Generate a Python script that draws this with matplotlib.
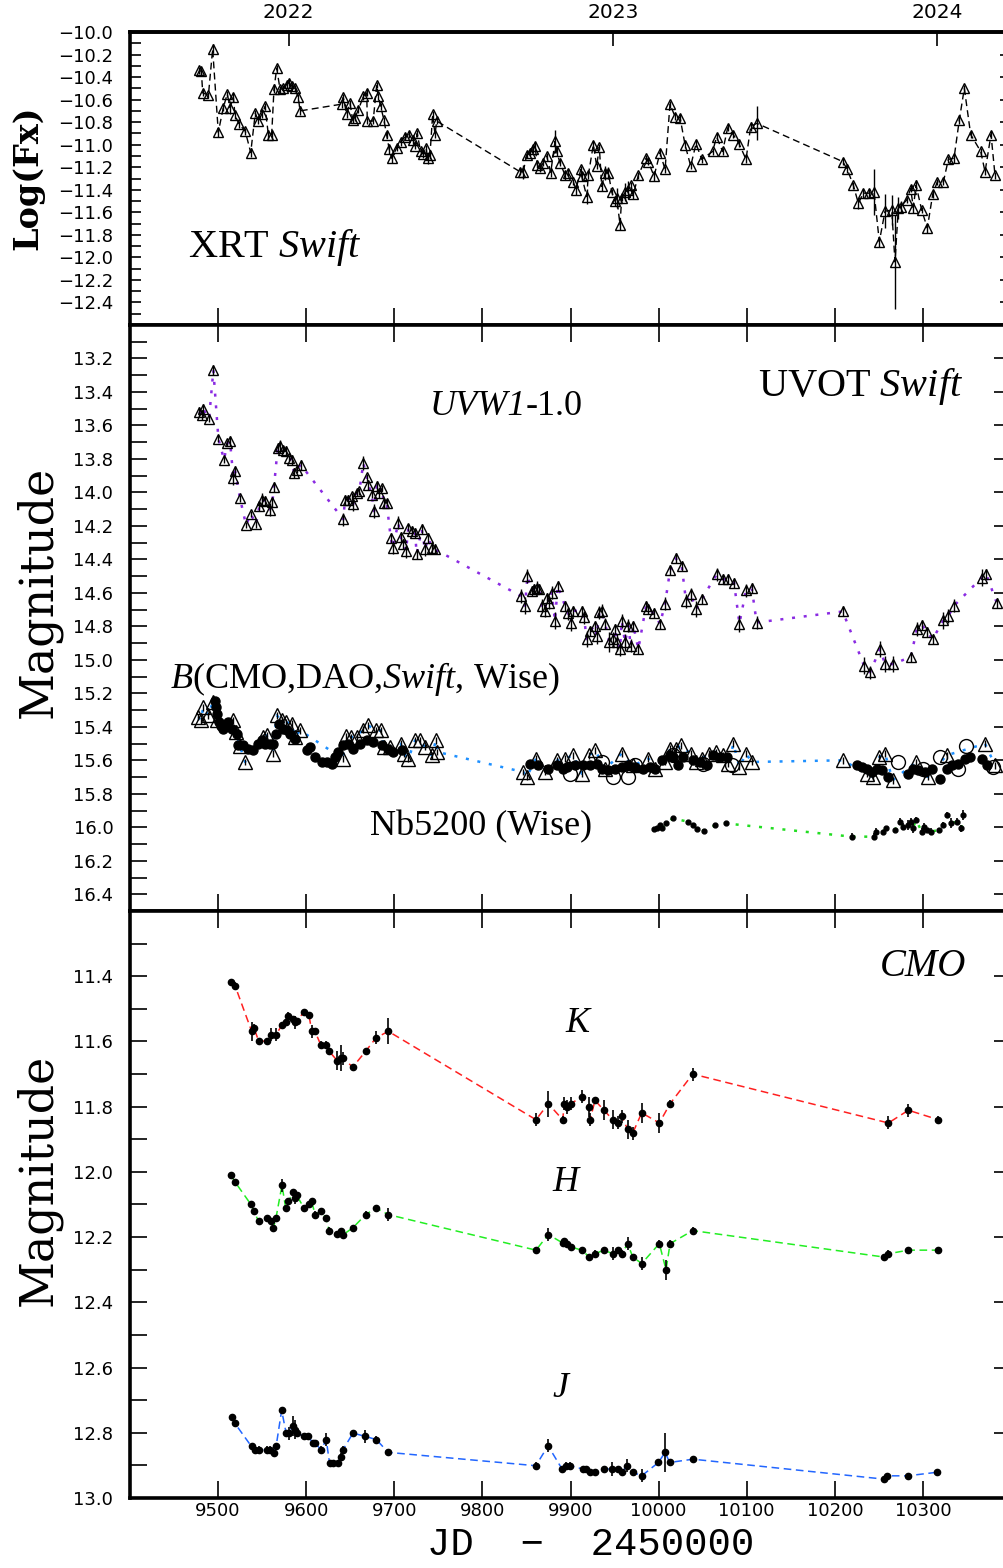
import matplotlib
matplotlib.use('Agg')
import matplotlib.pyplot as plt
from matplotlib.ticker import FixedLocator, MultipleLocator, FuncFormatter
import numpy as np

plt.rcParams['font.family'] = ['DejaVu Sans']
plt.rcParams['mathtext.fontset'] = 'custom'
plt.rcParams['mathtext.rm'] = 'Liberation Serif'
plt.rcParams['mathtext.it'] = 'Liberation Serif:italic'

# JD-2450000, value, error
xrt = np.array([
    [9478.7, -10.34, 0.03], [9481.0, -10.35, 0.03], [9482.5, -10.54, 0.03], [9489.0, -10.56, 0.03],
    [9493.8, -10.15, 0.04], [9500.2, -10.89, 0.04], [9505.9, -10.67, 0.03], [9510.4, -10.55, 0.03],
    [9513.5, -10.67, 0.06], [9517.3, -10.58, 0.04], [9519.2, -10.74, 0.03], [9524.0, -10.82, 0.03],
    [9530.8, -10.88, 0.03], [9537.0, -11.07, 0.04], [9542.2, -10.72, 0.03], [9545.7, -10.79, 0.03],
    [9549.5, -10.73, 0.03], [9553.2, -10.66, 0.03], [9557.0, -10.91, 0.04], [9560.8, -10.91, 0.04],
    [9563.4, -10.51, 0.03], [9566.5, -10.32, 0.03], [9570.3, -10.51, 0.03], [9574.0, -10.50, 0.03],
    [9577.9, -10.47, 0.03], [9580.8, -10.45, 0.03], [9583.5, -10.48, 0.03], [9587.3, -10.50, 0.03],
    [9591.0, -10.58, 0.03], [9593.0, -10.70, 0.04], [9640.5, -10.64, 0.03], [9642.0, -10.58, 0.03],
    [9645.9, -10.73, 0.03], [9649.7, -10.63, 0.03], [9652.7, -10.78, 0.03], [9655.4, -10.76, 0.03],
    [9659.2, -10.69, 0.03], [9664.9, -10.57, 0.03], [9668.7, -10.54, 0.03], [9669.3, -10.79, 0.03],
    [9676.0, -10.79, 0.03], [9680.0, -10.47, 0.03], [9681.7, -10.57, 0.03], [9684.5, -10.66, 0.03],
    [9688.2, -10.78, 0.03], [9691.2, -10.91, 0.03], [9694.2, -11.04, 0.04], [9697.0, -11.12, 0.04],
    [9702.6, -11.03, 0.03], [9707.1, -10.98, 0.03], [9712.0, -10.93, 0.03], [9717.0, -10.91, 0.03],
    [9720.8, -10.96, 0.03], [9723.5, -11.01, 0.03], [9726.0, -10.90, 0.03], [9729.8, -11.06, 0.03],
    [9732.9, -11.08, 0.04], [9736.0, -11.03, 0.03], [9737.9, -11.12, 0.05], [9740.5, -11.09, 0.04],
    [9743.5, -10.73, 0.03], [9746.2, -10.91, 0.03], [9748.1, -10.79, 0.03], [9842.7, -11.24, 0.03],
    [9846.4, -11.24, 0.06], [9850.2, -11.09, 0.03], [9854.0, -11.07, 0.03], [9857.8, -11.04, 0.03],
    [9859.7, -11.01, 0.03], [9862.3, -11.18, 0.03], [9865.4, -11.21, 0.03], [9869.1, -11.16, 0.03],
    [9873.0, -11.10, 0.03], [9877.5, -11.25, 0.04], [9882.4, -10.97, 0.10], [9884.2, -11.06, 0.04],
    [9888.0, -11.16, 0.03], [9893.8, -11.27, 0.04], [9897.5, -11.25, 0.03], [9903.2, -11.33, 0.03],
    [9906.2, -11.40, 0.05], [9911.6, -11.22, 0.03], [9912.7, -11.28, 0.04], [9918.4, -11.46, 0.07],
    [9920.2, -11.27, 0.03], [9925.9, -11.00, 0.03], [9929.7, -11.19, 0.03], [9932.7, -11.02, 0.03],
    [9935.4, -11.37, 0.04], [9939.2, -11.25, 0.06], [9942.9, -11.25, 0.05], [9946.8, -11.42, 0.03],
    [9950.5, -11.50, 0.04], [9952.4, -11.47, 0.09], [9956.2, -11.71, 0.05], [9958.1, -11.47, 0.03],
    [9961.9, -11.42, 0.08], [9965.6, -11.40, 0.08], [9968.3, -11.36, 0.03], [9971.3, -11.44, 0.04],
    [9977.0, -11.27, 0.03], [9985.7, -11.12, 0.03], [9988.3, -11.15, 0.03], [9994.8, -11.28, 0.04],
    [10001.6, -11.07, 0.03], [10007.3, -11.22, 0.03], [10012.9, -10.64, 0.03], [10018.6, -10.75, 0.03],
    [10024.3, -10.76, 0.03], [10030.0, -11.00, 0.03], [10036.4, -11.19, 0.03], [10042.5, -10.99, 0.03],
    [10048.9, -11.13, 0.03], [10061.3, -11.06, 0.03], [10065.8, -10.93, 0.03], [10072.6, -11.06, 0.03],
    [10078.4, -10.85, 0.03], [10084.7, -10.91, 0.03], [10091.2, -10.99, 0.03], [10099.2, -11.13, 0.03],
    [10104.5, -10.84, 0.04], [10111.3, -10.81, 0.15], [10209.0, -11.15, 0.03], [10214.2, -11.22, 0.03],
    [10221.0, -11.36, 0.03], [10226.7, -11.52, 0.05], [10232.4, -11.43, 0.04], [10239.2, -11.43, 0.04],
    [10244.5, -11.42, 0.20], [10250.5, -11.86, 0.05], [10257.0, -11.59, 0.15], [10264.6, -11.58, 0.13],
    [10268.3, -12.04, 0.42], [10272.1, -11.56, 0.10], [10274.8, -11.55, 0.05], [10281.6, -11.49, 0.03],
    [10286.1, -11.39, 0.03], [10289.1, -11.56, 0.05], [10292.2, -11.36, 0.05], [10298.6, -11.58, 0.03],
    [10305.0, -11.74, 0.04], [10311.1, -11.44, 0.03], [10316.3, -11.33, 0.03], [10323.2, -11.33, 0.03],
    [10328.9, -11.13, 0.03], [10335.3, -11.12, 0.04], [10341.3, -10.78, 0.04], [10347.0, -10.50, 0.03],
    [10354.2, -10.91, 0.03], [10365.6, -11.06, 0.03], [10370.5, -11.24, 0.03], [10377.3, -10.91, 0.03],
    [10381.8, -11.27, 0.03],
])

uvw1 = np.array([
    [9478.7, 13.517, 0.03], [9481.3, 13.536, 0.03], [9483.2, 13.501, 0.03], [9489.7, 13.560, 0.02],
    [9494.6, 13.269, 0.03], [9500.3, 13.679, 0.02], [9506.7, 13.804, 0.02], [9510.5, 13.705, 0.02],
    [9513.5, 13.695, 0.03], [9517.3, 13.913, 0.04], [9519.2, 13.874, 0.03], [9524.9, 14.036, 0.02],
    [9531.7, 14.195, 0.02], [9537.0, 14.128, 0.02], [9543.0, 14.191, 0.02], [9546.8, 14.082, 0.03],
    [9549.5, 14.043, 0.04], [9553.2, 14.052, 0.03], [9558.9, 14.102, 0.04], [9561.6, 14.056, 0.03],
    [9563.4, 13.967, 0.03], [9567.6, 13.735, 0.03], [9570.3, 13.725, 0.04], [9574.0, 13.745, 0.02],
    [9577.1, 13.751, 0.03], [9580.9, 13.794, 0.02], [9583.5, 13.804, 0.03], [9586.2, 13.884, 0.03],
    [9589.2, 13.864, 0.02], [9593.7, 13.834, 0.03], [9642.1, 14.161, 0.04], [9644.0, 14.043, 0.03],
    [9647.8, 14.043, 0.03], [9651.6, 14.023, 0.02], [9653.5, 14.068, 0.04], [9657.3, 14.003, 0.02],
    [9660.3, 13.993, 0.02], [9664.8, 13.824, 0.04], [9668.6, 13.909, 0.02], [9670.5, 13.953, 0.03],
    [9674.3, 14.013, 0.02], [9677.0, 14.112, 0.04], [9680.0, 13.963, 0.03], [9683.0, 14.003, 0.03],
    [9685.7, 13.973, 0.02], [9688.3, 14.062, 0.03], [9691.3, 14.062, 0.02], [9695.9, 14.271, 0.03],
    [9698.1, 14.330, 0.04], [9704.6, 14.181, 0.04], [9707.2, 14.267, 0.03], [9710.3, 14.310, 0.03],
    [9713.3, 14.350, 0.04], [9715.9, 14.211, 0.02], [9719.7, 14.231, 0.03], [9723.5, 14.241, 0.03],
    [9725.4, 14.366, 0.03], [9731.1, 14.221, 0.03], [9734.8, 14.340, 0.04], [9738.6, 14.271, 0.03],
    [9742.4, 14.330, 0.04], [9746.2, 14.340, 0.03], [9843.4, 14.618, 0.04], [9848.4, 14.677, 0.05],
    [9851.0, 14.499, 0.04], [9855.9, 14.588, 0.03], [9858.6, 14.578, 0.03], [9861.6, 14.568, 0.04],
    [9864.6, 14.578, 0.03], [9867.3, 14.677, 0.04], [9871.1, 14.707, 0.04], [9873.0, 14.628, 0.03],
    [9876.0, 14.658, 0.04], [9878.6, 14.598, 0.04], [9882.4, 14.767, 0.05], [9885.4, 14.558, 0.03],
    [9893.8, 14.677, 0.03], [9897.6, 14.723, 0.04], [9900.2, 14.777, 0.05], [9903.2, 14.707, 0.03],
    [9912.7, 14.707, 0.03], [9915.3, 14.747, 0.04], [9918.4, 14.876, 0.05], [9922.2, 14.826, 0.03],
    [9927.8, 14.796, 0.03], [9929.7, 14.856, 0.05], [9932.7, 14.717, 0.04], [9935.4, 14.707, 0.04],
    [9939.2, 14.783, 0.03], [9944.1, 14.896, 0.06], [9947.9, 14.876, 0.04], [9950.5, 14.816, 0.03],
    [9953.2, 14.896, 0.05], [9956.2, 14.935, 0.04], [9958.1, 14.767, 0.04], [9961.9, 14.896, 0.05],
    [9965.7, 14.796, 0.04], [9968.3, 14.916, 0.04], [9971.3, 14.796, 0.03], [9977.0, 14.935, 0.03],
    [9985.7, 14.677, 0.03], [9988.4, 14.697, 0.03], [9994.8, 14.723, 0.03], [10001.6, 14.786, 0.03],
    [10007.3, 14.664, 0.04], [10013.0, 14.465, 0.03], [10019.4, 14.394, 0.03], [10026.2, 14.439, 0.03],
    [10031.1, 14.648, 0.04], [10036.4, 14.608, 0.04], [10042.5, 14.697, 0.05], [10048.9, 14.638, 0.03],
    [10065.9, 14.489, 0.04], [10072.7, 14.519, 0.03], [10079.2, 14.519, 0.03], [10085.6, 14.539, 0.03],
    [10091.7, 14.783, 0.05], [10099.2, 14.584, 0.04], [10105.7, 14.572, 0.03], [10111.3, 14.777, 0.04],
    [10209.0, 14.711, 0.03], [10233.2, 15.035, 0.05], [10240.0, 15.074, 0.04], [10251.3, 14.935, 0.05],
    [10257.0, 15.025, 0.05], [10266.5, 15.025, 0.05], [10286.5, 14.981, 0.03], [10292.9, 14.816, 0.04],
    [10298.6, 14.790, 0.03], [10305.1, 14.836, 0.03], [10311.1, 14.876, 0.03], [10323.2, 14.763, 0.05],
    [10328.9, 14.737, 0.04], [10335.3, 14.677, 0.04], [10366.7, 14.509, 0.05], [10371.6, 14.485, 0.03],
    [10383.7, 14.658, 0.03],
])

# B band: Swift (triangles), CMO/DAO (filled circles), Wise (open circles)
b_swift = np.array([
    [9477.6, 15.342, 0.02], [9480.2, 15.362, 0.02], [9483.2, 15.283, 0.02], [9488.9, 15.332, 0.02],
    [9493.8, 15.253, 0.02], [9499.1, 15.362, 0.02], [9517.3, 15.362, 0.02], [9520.3, 15.431, 0.02],
    [9524.9, 15.517, 0.02], [9530.5, 15.610, 0.02], [9550.6, 15.461, 0.02], [9555.1, 15.451, 0.02],
    [9561.9, 15.560, 0.02], [9566.5, 15.332, 0.02], [9572.2, 15.362, 0.02], [9577.1, 15.372, 0.02],
    [9583.5, 15.382, 0.02], [9587.3, 15.461, 0.02], [9593.0, 15.421, 0.02], [9641.4, 15.590, 0.02],
    [9645.2, 15.457, 0.02], [9650.5, 15.461, 0.02], [9657.3, 15.461, 0.02], [9664.1, 15.418, 0.02],
    [9670.5, 15.392, 0.02], [9679.2, 15.421, 0.02], [9684.5, 15.421, 0.02], [9688.3, 15.521, 0.02],
    [9695.1, 15.521, 0.02], [9707.2, 15.501, 0.02], [9711.0, 15.560, 0.02], [9715.9, 15.590, 0.02],
    [9723.5, 15.481, 0.02], [9729.2, 15.481, 0.02], [9734.8, 15.521, 0.02], [9742.4, 15.570, 0.02],
    [9747.3, 15.481, 0.02], [9748.8, 15.550, 0.02], [9846.5, 15.670, 0.02], [9850.2, 15.699, 0.02],
    [9860.8, 15.590, 0.02], [9871.1, 15.670, 0.02], [9885.1, 15.600, 0.02], [9893.8, 15.590, 0.02],
    [9903.2, 15.570, 0.02], [9912.7, 15.680, 0.02], [9921.4, 15.570, 0.02], [9927.8, 15.540, 0.02],
    [9939.2, 15.650, 0.02], [9958.1, 15.560, 0.02], [9971.3, 15.630, 0.02], [9988.4, 15.590, 0.02],
    [9995.9, 15.650, 0.02], [10007.3, 15.610, 0.02], [10013.0, 15.531, 0.02], [10019.8, 15.531, 0.02],
    [10025.1, 15.511, 0.02], [10036.4, 15.560, 0.02], [10042.5, 15.610, 0.02], [10048.9, 15.590, 0.02],
    [10057.6, 15.560, 0.02], [10065.2, 15.550, 0.02], [10072.7, 15.570, 0.02], [10079.2, 15.620, 0.02],
    [10084.9, 15.501, 0.02], [10091.7, 15.640, 0.02], [10099.2, 15.560, 0.02], [10105.7, 15.610, 0.02],
    [10208.9, 15.600, 0.02], [10236.2, 15.680, 0.02], [10243.0, 15.699, 0.02], [10250.6, 15.580, 0.02],
    [10257.0, 15.560, 0.02], [10265.7, 15.719, 0.02], [10292.2, 15.610, 0.02], [10305.4, 15.699, 0.02],
    [10327.0, 15.570, 0.02], [10370.5, 15.501, 0.02], [10381.9, 15.630, 0.02],
])

b_cmo = np.array([
    [9496.5, 15.243], [9497.6, 15.283], [9499.1, 15.322], [9501.4, 15.372], [9502.9, 15.398],
    [9505.9, 15.412], [9509.7, 15.382], [9511.6, 15.372], [9515.4, 15.412], [9521.1, 15.441],
    [9523.0, 15.511], [9528.6, 15.511], [9534.3, 15.531], [9540.0, 15.540], [9545.7, 15.501],
    [9549.5, 15.481], [9553.2, 15.501], [9558.9, 15.501], [9562.7, 15.501], [9565.7, 15.441],
    [9569.5, 15.382], [9574.0, 15.412], [9577.8, 15.421], [9581.6, 15.441], [9587.3, 15.471],
    [9600.5, 15.540], [9604.3, 15.521], [9610.0, 15.580], [9617.6, 15.610], [9623.2, 15.610],
    [9628.9, 15.620], [9632.7, 15.580], [9636.5, 15.550], [9642.1, 15.511], [9647.8, 15.501],
    [9653.5, 15.531], [9661.1, 15.501], [9668.6, 15.481], [9676.2, 15.491], [9685.7, 15.511],
    [9693.2, 15.531], [9698.9, 15.550], [9708.4, 15.540], [9854.0, 15.620], [9863.5, 15.630],
    [9874.8, 15.650], [9884.3, 15.630], [9891.9, 15.650], [9895.7, 15.640], [9905.1, 15.630],
    [9914.6, 15.630], [9922.2, 15.630], [9929.7, 15.620], [9935.4, 15.650], [9943.0, 15.660],
    [9950.5, 15.650], [9958.1, 15.640], [9965.7, 15.630], [9973.2, 15.640], [9982.7, 15.650],
    [9990.3, 15.640], [9995.9, 15.650], [10003.5, 15.600], [10013.0, 15.570], [10016.7, 15.580],
    [10022.4, 15.630], [10028.1, 15.580], [10039.4, 15.600], [10047.0, 15.610], [10054.6, 15.630],
    [10062.1, 15.570], [10069.7, 15.580], [10077.3, 15.580], [10224.8, 15.630], [10230.5, 15.640],
    [10236.2, 15.650], [10241.9, 15.670], [10247.5, 15.650], [10253.2, 15.660], [10260.8, 15.699],
    [10283.5, 15.680], [10289.2, 15.650], [10294.8, 15.660], [10302.4, 15.670], [10310.0, 15.650],
    [10319.4, 15.709], [10327.0, 15.650], [10332.7, 15.630], [10340.2, 15.620], [10347.8, 15.590],
    [10353.5, 15.580], [10366.7, 15.590], [10372.4, 15.630],
])

b_wise = np.array([
    [9899.5, 15.680], [9935.4, 15.610], [9948.6, 15.699], [9965.7, 15.699], [9973.2, 15.630],
    [10016.0, 15.570], [10050.8, 15.620], [10083.0, 15.630], [10272.1, 15.610], [10300.5, 15.650],
    [10319.4, 15.580], [10340.2, 15.650], [10348.9, 15.517], [10379.9, 15.640],
])

nb5200 = np.array([
    [9994.8, 16.013, 0.01], [9997.8, 16.007, 0.01], [10001.6, 15.987, 0.01], [10004.3, 16.007, 0.01],
    [10008.4, 15.977, 0.01], [10016.0, 15.947, 0.01], [10033.8, 15.967, 0.01], [10038.7, 15.987, 0.01],
    [10043.2, 16.011, 0.01], [10051.6, 16.021, 0.01], [10064.0, 15.989, 0.01], [10076.5, 15.977, 0.01],
    [10219.2, 16.056, 0.02], [10244.5, 16.056, 0.02], [10246.8, 16.026, 0.02], [10254.3, 16.026, 0.01],
    [10258.1, 16.007, 0.01], [10268.4, 16.016, 0.01], [10274.0, 15.967, 0.02], [10277.8, 15.997, 0.02],
    [10283.5, 15.987, 0.03], [10286.1, 15.967, 0.02], [10288.4, 16.007, 0.03], [10292.2, 15.957, 0.02],
    [10298.6, 16.026, 0.02], [10301.3, 15.997, 0.02], [10304.3, 16.016, 0.01], [10308.8, 16.026, 0.02],
    [10318.7, 16.016, 0.01], [10322.5, 15.987, 0.02], [10327.7, 15.927, 0.02], [10331.5, 15.977, 0.03],
    [10338.3, 15.967, 0.02], [10343.3, 16.007, 0.02], [10345.9, 15.927, 0.03],
])

# CMO near-IR
k_band = np.array([
    [9514.6, 11.418, 0.01], [9519.2, 11.429, 0.01], [9538.1, 11.569, 0.03], [9540.7, 11.558, 0.01],
    [9546.0, 11.599, 0.01], [9555.1, 11.599, 0.01], [9560.4, 11.579, 0.02], [9565.7, 11.579, 0.02],
    [9572.5, 11.550, 0.01], [9576.7, 11.540, 0.01], [9579.7, 11.521, 0.01], [9585.4, 11.531, 0.01],
    [9587.3, 11.541, 0.02], [9589.2, 11.538, 0.01], [9597.5, 11.509, 0.01], [9603.2, 11.520, 0.01],
    [9606.2, 11.569, 0.02], [9610.0, 11.569, 0.01], [9616.4, 11.610, 0.01], [9622.5, 11.610, 0.01],
    [9625.9, 11.630, 0.01], [9635.3, 11.659, 0.03], [9639.1, 11.651, 0.04], [9642.1, 11.651, 0.02],
    [9652.7, 11.679, 0.01], [9667.5, 11.630, 0.01], [9679.2, 11.589, 0.02], [9693.2, 11.569, 0.04],
    [9860.8, 11.840, 0.02], [9874.8, 11.791, 0.04], [9891.1, 11.840, 0.01], [9893.0, 11.791, 0.02],
    [9895.6, 11.801, 0.02], [9900.2, 11.791, 0.02], [9912.7, 11.770, 0.02], [9921.4, 11.801, 0.03],
    [9922.2, 11.840, 0.02], [9927.8, 11.781, 0.01], [9938.0, 11.811, 0.03], [9947.9, 11.840, 0.03],
    [9954.3, 11.850, 0.02], [9958.1, 11.829, 0.02], [9964.9, 11.870, 0.03], [9970.6, 11.881, 0.02],
    [9980.8, 11.819, 0.03], [10000.8, 11.850, 0.03], [10013.0, 11.791, 0.01], [10038.7, 11.700, 0.02],
    [10260.8, 11.850, 0.02], [10283.5, 11.811, 0.02], [10317.5, 11.840, 0.01],
])

h_band = np.array([
    [9514.6, 12.010, 0.01], [9519.2, 12.031, 0.01], [9537.3, 12.100, 0.01], [9540.7, 12.121, 0.01],
    [9546.0, 12.152, 0.01], [9555.1, 12.141, 0.01], [9560.4, 12.152, 0.01], [9562.7, 12.172, 0.01],
    [9565.7, 12.141, 0.01], [9572.5, 12.041, 0.02], [9576.7, 12.111, 0.01], [9579.7, 12.090, 0.01],
    [9585.4, 12.062, 0.01], [9587.3, 12.080, 0.02], [9589.2, 12.072, 0.01], [9597.5, 12.111, 0.01],
    [9603.2, 12.100, 0.01], [9606.2, 12.090, 0.01], [9610.0, 12.131, 0.01], [9616.4, 12.121, 0.01],
    [9622.5, 12.141, 0.01], [9625.9, 12.180, 0.01], [9635.3, 12.190, 0.01], [9639.1, 12.182, 0.01],
    [9642.1, 12.192, 0.01], [9652.7, 12.172, 0.01], [9667.5, 12.131, 0.01], [9679.2, 12.111, 0.01],
    [9693.2, 12.131, 0.02], [9860.8, 12.240, 0.01], [9874.8, 12.192, 0.02], [9891.1, 12.218, 0.01],
    [9893.0, 12.213, 0.01], [9895.6, 12.220, 0.01], [9900.2, 12.230, 0.01], [9912.7, 12.240, 0.01],
    [9921.4, 12.261, 0.01], [9927.8, 12.251, 0.01], [9938.0, 12.240, 0.01], [9947.9, 12.251, 0.02],
    [9954.3, 12.240, 0.01], [9958.1, 12.251, 0.01], [9964.9, 12.220, 0.02], [9970.6, 12.261, 0.01],
    [9980.8, 12.281, 0.02], [10000.8, 12.220, 0.01], [10008.4, 12.300, 0.03], [10013.0, 12.220, 0.01],
    [10038.7, 12.180, 0.01], [10255.4, 12.261, 0.01], [10260.8, 12.251, 0.01], [10283.5, 12.240, 0.01],
    [10317.5, 12.240, 0.01],
])

j_band = np.array([
    [9515.2, 12.752, 0.01], [9519.0, 12.771, 0.01], [9537.9, 12.842, 0.01], [9542.4, 12.852, 0.01],
    [9546.8, 12.852, 0.01], [9555.0, 12.852, 0.01], [9559.4, 12.852, 0.01], [9563.2, 12.863, 0.01],
    [9565.8, 12.842, 0.01], [9572.1, 12.731, 0.01], [9577.2, 12.801, 0.01], [9580.3, 12.801, 0.02],
    [9584.8, 12.780, 0.03], [9587.3, 12.790, 0.03], [9589.8, 12.801, 0.01], [9597.4, 12.811, 0.01],
    [9602.5, 12.811, 0.01], [9607.5, 12.832, 0.01], [9610.1, 12.832, 0.01], [9617.0, 12.852, 0.01],
    [9622.7, 12.821, 0.02], [9626.5, 12.893, 0.01], [9630.9, 12.893, 0.01], [9636.0, 12.893, 0.01],
    [9639.2, 12.873, 0.01], [9641.7, 12.852, 0.01], [9653.1, 12.801, 0.01], [9667.0, 12.811, 0.02],
    [9679.7, 12.821, 0.01], [9692.9, 12.860, 0.01], [9860.6, 12.901, 0.01], [9874.5, 12.840, 0.02],
    [9890.4, 12.911, 0.01], [9894.8, 12.901, 0.01], [9899.8, 12.901, 0.01], [9913.8, 12.911, 0.01],
    [9917.6, 12.911, 0.01], [9922.0, 12.921, 0.01], [9928.3, 12.921, 0.01], [9937.8, 12.911, 0.01],
    [9947.3, 12.911, 0.02], [9953.6, 12.911, 0.01], [9958.1, 12.921, 0.01], [9964.4, 12.901, 0.02],
    [9970.7, 12.921, 0.01], [9980.8, 12.932, 0.02], [9999.8, 12.891, 0.01], [10007.4, 12.860, 0.06],
    [10012.5, 12.891, 0.01], [10039.0, 12.881, 0.01], [10255.4, 12.942, 0.01], [10259.2, 12.932, 0.01],
    [10282.6, 12.932, 0.01], [10316.2, 12.921, 0.01],
])

year_jd = [9580.0, 9948.0, 10316.0]
year_labels = ['2022', '2023', '2024']

# figure geometry: three stacked panels sharing JD axis
fig = plt.figure(figsize=(10.04, 15.68), dpi=100)
left, width = 0.1295, 0.8775
ax1 = fig.add_axes([left, 0.79273, width, 0.18686])
ax2 = fig.add_axes([left, 0.41901, width, 0.37372])
ax3 = fig.add_axes([left, 0.04464, width, 0.37437])

jd_ticks = [9500, 9600, 9700, 9800, 9900, 10000, 10100, 10200, 10300]
fmt = FuncFormatter(lambda v, pos: ('%.1f' % v).replace('-', '\u2212'))

def frame(ax, ymajor, ylim, ylen):
    ax.set_xlim(9400, 10400)
    ax.set_ylim(*ylim)
    ax.xaxis.set_major_locator(FixedLocator(jd_ticks))
    ax.yaxis.set_major_locator(FixedLocator(ymajor))
    ax.yaxis.set_minor_locator(MultipleLocator(0.1))
    ax.yaxis.set_major_formatter(fmt)
    ax.tick_params(axis='x', which='major', direction='in', length=12, width=1.2,
                   top=True, bottom=True, labelbottom=False, labelsize=13, pad=3)
    ax.tick_params(axis='y', which='major', direction='in', length=ylen, width=1.2,
                   left=True, right=True, labelsize=13, pad=12)
    ax.tick_params(axis='y', which='minor', direction='in', length=ylen, width=1.2,
                   left=True, right=False)
    for s in ax.spines.values():
        s.set_linewidth(2.6)

frame(ax1, np.round(np.arange(-12.4, -9.95, 0.2), 1), (-12.6, -10.0), 8)
frame(ax2, np.round(np.arange(13.2, 16.45, 0.2), 1), (16.5, 13.0), 12)
frame(ax3, np.round(np.arange(11.4, 13.05, 0.2), 1), (13.0, 11.2), 12)
ax1.tick_params(axis='x', top=False)
ax3.tick_params(axis='x', labelbottom=True)

sec = ax1.secondary_xaxis('top')
sec.set_xticks(year_jd, labels=year_labels)
sec.tick_params(direction='in', length=10, width=1.2, labelsize=14.5, pad=7)
sec.spines['top'].set_linewidth(2.6)

dash = (0, (5, 3))
dots = (0, (1.2, 3.5))

def tri(ax, d, ms, line_color=None, ls=None, lw=1.0):
    if line_color is not None:
        ax.plot(d[:, 0], d[:, 1], ls=ls, color=line_color, lw=lw, zorder=1)
    ax.errorbar(d[:, 0], d[:, 1], yerr=d[:, 2], fmt='none', ecolor='k', elinewidth=1.0, capsize=0, zorder=2)
    ax.plot(d[:, 0], d[:, 1], ls='none', marker='^', ms=ms, mfc='none', mec='k', mew=1.0, zorder=3)

def dots_err(ax, d, ms, line_color, ls, lw):
    ax.plot(d[:, 0], d[:, 1], ls=ls, color=line_color, lw=lw, zorder=1)
    ax.errorbar(d[:, 0], d[:, 1], yerr=d[:, 2], fmt='none', ecolor='k', elinewidth=1.2, capsize=0, zorder=2)
    ax.plot(d[:, 0], d[:, 1], ls='none', marker='o', ms=ms, mfc='k', mec='k', zorder=3)

# X-ray flux
tri(ax1, xrt, 7.5, 'k', dash, 1.0)

# UV and optical
tri(ax2, uvw1, 7.5, '#8a2be2', dots, 1.8)
tri(ax2, b_swift, 10, '#1e90ff', dots, 1.8)
ax2.plot(b_cmo[:, 0], b_cmo[:, 1], ls='none', marker='o', ms=6.5, mfc='k', mec='k', zorder=3)
ax2.plot(b_wise[:, 0], b_wise[:, 1], ls='none', marker='o', ms=10, mfc='none', mec='k', mew=1.0, zorder=3)
dots_err(ax2, nb5200, 3.5, '#22dd22', dots, 1.8)

# near-IR
dots_err(ax3, k_band, 4.5, '#ff2020', dash, 1.1)
dots_err(ax3, h_band, 4.5, '#22ee22', dash, 1.1)
dots_err(ax3, j_band, 4.5, '#2266ff', dash, 1.1)

serif = 'Liberation Serif'
ax1.text(9466, -12.0, r'XRT $\mathit{Swift}$', family=serif, fontsize=29, va='baseline')
ax2.text(10113, 13.427, r'UVOT $\mathit{Swift}$', family=serif, fontsize=29, va='baseline')
uv = ax2.text(9740, 13.54, 'UVW1', family=serif, style='italic', fontsize=26, va='baseline')
ax2.annotate('-1.0', xy=(1, 0), xycoords=uv, family=serif, fontsize=26, va='bottom', ha='left')
ax2.text(9445, 15.17, r'$\mathit{B}$(CMO,DAO,$\mathit{Swift}$, Wise)', family=serif, fontsize=26, va='baseline')
ax2.text(9672, 16.05, 'Nb5200 (Wise)', family=serif, fontsize=26, va='baseline')
ax3.text(10251, 11.40, 'CMO', family=serif, style='italic', fontsize=28, va='baseline')
ax3.text(9894, 11.57, 'K', family=serif, style='italic', fontsize=26, va='baseline')
ax3.text(9879, 12.06, 'H', family=serif, style='italic', fontsize=26, va='baseline')
ax3.text(9879, 12.69, 'J', family=serif, style='italic', fontsize=26, va='baseline')

fig.text(0.028, 1 - 178 / 1568, 'Log(Fx)', family='DejaVu Serif', weight='bold', fontsize=24,
         rotation=90, ha='center', va='center')
fig.text(0.038, 1 - 592 / 1568, 'Magnitude', family='DejaVu Serif', fontsize=33,
         rotation=90, ha='center', va='center')
fig.text(0.038, 1 - 1180 / 1568, 'Magnitude', family='DejaVu Serif', fontsize=33,
         rotation=90, ha='center', va='center')
fig.text(0.588, 13 / 1568, 'JD  \u2212  2450000', family='Liberation Mono', fontsize=28,
         ha='center', va='baseline')

fig.savefig('out.png', dpi=100)
